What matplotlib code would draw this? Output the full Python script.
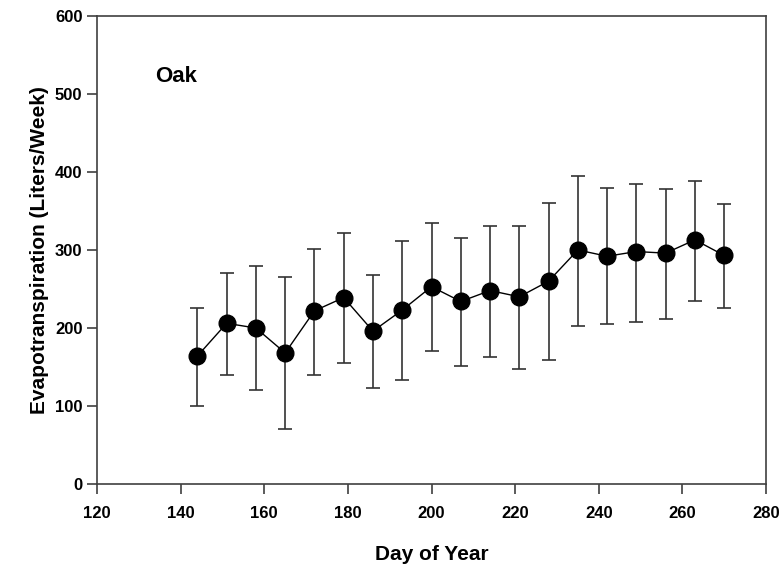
import matplotlib.pyplot as plt

plt.rcParams['font.family'] = ['Liberation Sans', 'DejaVu Sans']
plt.rcParams['font.weight'] = 'bold'

# Datos: día del año, media y extremos de las barras de error
dias = [144, 151, 158, 165, 172, 179, 186, 193, 200, 207,
        214, 221, 228, 235, 242, 249, 256, 263, 270]
et_media = [164, 206, 200, 168, 222, 239, 196, 223, 253, 234,
            248, 240, 260, 300, 292, 298, 296, 313, 293]
et_sup = [226, 271, 279, 265, 301, 322, 268, 312, 334, 316,
          331, 331, 360, 395, 379, 385, 378, 389, 359]
et_inf = [100, 140, 120, 70, 140, 155, 123, 133, 170, 151,
          163, 148, 159, 203, 205, 208, 212, 235, 226]

err_inf = [m - i for m, i in zip(et_media, et_inf)]
err_sup = [s - m for m, s in zip(et_media, et_sup)]

fig = plt.figure(figsize=(7.82, 5.68), dpi=100)
ax = fig.add_axes([97 / 782, 1 - 484 / 568, (766 - 97) / 782, (484 - 16) / 568])

ax.errorbar(dias, et_media, yerr=[err_inf, err_sup], fmt='-o', color='black',
            ecolor='#333333', elinewidth=1.2, capsize=4.7, capthick=1.2,
            linewidth=1, markersize=12, zorder=3)

ax.set_xlim(120, 280)
ax.set_ylim(0, 600)
ax.set_xticks(range(120, 281, 20))
ax.set_yticks(range(0, 601, 100))

for lado in ['left', 'bottom', 'right', 'top']:
    ax.spines[lado].set_color('#404040')
    ax.spines[lado].set_linewidth(1.2)

ax.tick_params(direction='out', length=7, width=1.2, color='#404040',
               labelsize=12, top=False, right=False)
ax.tick_params(axis='x', pad=9)
for lbl in ax.get_xticklabels() + ax.get_yticklabels():
    lbl.set_fontweight('bold')

ax.set_xlabel('Day of Year', fontsize=15, fontweight='bold', labelpad=17)
ax.set_ylabel('Evapotranspiration (Liters/Week)', fontsize=15, fontweight='bold', labelpad=4)

ax.text(134, 522, 'Oak', fontsize=16, fontweight='bold', va='center', ha='left')

fig.savefig('out.png', dpi=100)
